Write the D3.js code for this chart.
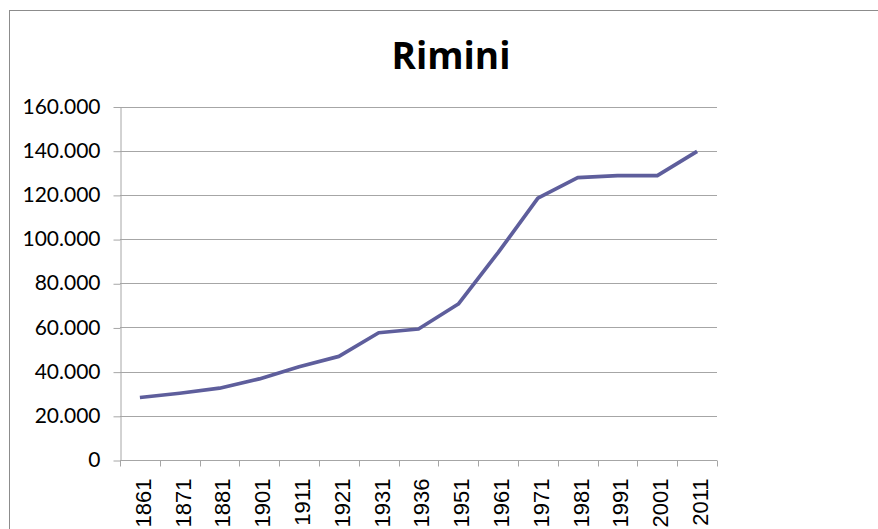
<!DOCTYPE html>
<html>
<head>
<meta charset="utf-8">
<script src="https://cdn.jsdelivr.net/npm/d3@7"></script>
<style>
  html, body { margin: 0; padding: 0; background: #fff; }
  svg { display: block; }
</style>
</head>
<body>
<svg id="chart" width="878" height="529"></svg>
<script>
const title = "Rimini";
const years = ["1861","1871","1881","1901","1911","1921","1931","1936","1951","1961","1971","1981","1991","2001","2011"];
const population = [28300, 30200, 32500, 36700, 42200, 46900, 57600, 59300, 70600, 93900, 118500, 127800, 128700, 128700, 139700];
const yTicks = [0, 20000, 40000, 60000, 80000, 100000, 120000, 140000, 160000];

const svg = d3.select("#chart");
const W = 878, H = 529;
const m = { left: 120, right: 161, top: 106.5, bottom: 69 };

// outer chart frame
svg.append("rect")
  .attr("x", 9.5).attr("y", 10.5)
  .attr("width", W + 20).attr("height", H + 20)
  .attr("fill", "none").attr("stroke", "#8c8c8c").attr("stroke-width", 1);

const x = d3.scaleBand().domain(years).range([m.left, W - m.right]).paddingInner(0).paddingOuter(0);
const y = d3.scaleLinear().domain([0, 160000]).range([H - m.bottom, m.top]);

const fmt = v => d3.format(",")(v).replace(/,/g, ".");

// gridlines
svg.append("g")
  .selectAll("line")
  .data(yTicks.filter(d => d > 0))
  .join("line")
  .attr("x1", m.left).attr("x2", W - m.right)
  .attr("y1", d => Math.round(y(d)) + 0.5).attr("y2", d => Math.round(y(d)) + 0.5)
  .attr("stroke", "#a6a6a6").attr("stroke-width", 1);

// y axis
const yAxis = svg.append("g")
  .attr("transform", `translate(${m.left + 0.5},0)`)
  .call(d3.axisLeft(y).tickValues(yTicks).tickFormat(fmt).tickSize(7).tickSizeOuter(0).tickPadding(13));
yAxis.select(".domain").attr("stroke", "#a6a6a6");
yAxis.selectAll(".tick line").attr("stroke", "#a6a6a6").attr("transform", "translate(0,0.5)");
yAxis.selectAll(".tick text")
  .attr("font-family", "Lato, 'Open Sans', sans-serif")
  .attr("font-size", 21)
  .attr("fill", "#000");

// x axis (ticks between categories)
const xAxisG = svg.append("g")
  .attr("transform", `translate(0,${Math.round(y(0)) + 0.5})`);
xAxisG.append("line")
  .attr("x1", m.left).attr("x2", W - m.right)
  .attr("stroke", "#a6a6a6");
const bounds = years.map(d => x(d)).concat([x(years[years.length - 1]) + x.bandwidth()]);
xAxisG.selectAll("line.tk")
  .data(bounds)
  .join("line")
  .attr("class", "tk")
  .attr("x1", d => Math.round(d) + 0.5).attr("x2", d => Math.round(d) + 0.5)
  .attr("y1", 0).attr("y2", 6)
  .attr("stroke", "#a6a6a6");
xAxisG.selectAll("text")
  .data(years)
  .join("text")
  .attr("transform", d => `translate(${x(d) + x.bandwidth() / 2 + 3},18) rotate(-90)`)
  .attr("text-anchor", "end")
  .attr("dy", "0.36em")
  .attr("font-family", "'Liberation Sans', Arial, sans-serif")
  .attr("font-size", 22)
  .attr("fill", "#000")
  .text(d => d);

// line
const line = d3.line()
  .x((d, i) => x(years[i]) + x.bandwidth() / 2)
  .y(d => y(d));
svg.append("path")
  .datum(population)
  .attr("d", line)
  .attr("fill", "none")
  .attr("stroke", "#5e5e9c")
  .attr("stroke-width", 3.7)
  .attr("stroke-linejoin", "round");

// title
svg.append("text")
  .attr("x", 451)
  .attr("y", 69)
  .attr("text-anchor", "middle")
  .attr("font-family", "'Open Sans', Lato, sans-serif")
  .attr("font-weight", "bold")
  .attr("font-size", 37)
  .attr("fill", "#000")
  .text(title);
</script>
</body>
</html>
